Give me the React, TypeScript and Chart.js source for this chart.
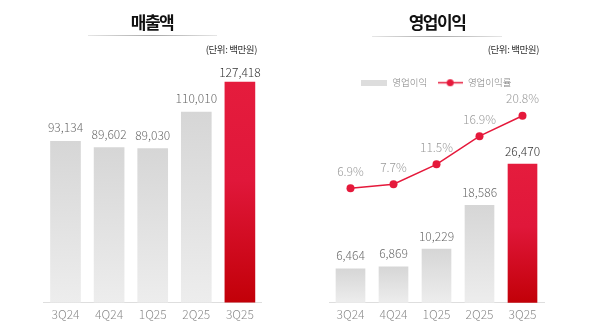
import React, { useEffect, useRef } from 'react';
import { Chart, registerables } from 'chart.js';

Chart.register(...registerables);

const categories = ['3Q24', '4Q24', '1Q25', '2Q25', '3Q25'];
const revenue = [93134, 89602, 89030, 110010, 127418];
const operatingProfit = [6464, 6869, 10229, 18586, 26470];
const operatingMargin = [6.9, 7.7, 11.5, 16.9, 20.8];
const revenueTitle = '매출액';
const profitTitle = '영업이익';
const unitLabel = '(단위: 백만원)';
const profitLegend = '영업이익';
const marginLegend = '영업이익률';

const FONT = "'Noto Sans CJK KR', 'Noto Sans', sans-serif";
const RED = '#e5193b';

function barColor(c: any) {
  const chart = c.chart;
  const area = chart.chartArea;
  const n = c.dataset && c.dataset.data ? c.dataset.data.length : 0;
  const last = c.dataIndex === n - 1;
  if (!area || c.type !== 'data') return last ? RED : '#dcdcdc';
  const scale = chart.scales[c.dataset.yAxisID || 'y'];
  const top = scale.getPixelForValue(c.raw);
  const g = chart.ctx.createLinearGradient(0, top, 0, area.bottom);
  if (last) {
    g.addColorStop(0, '#e51c3d');
    g.addColorStop(0.45, '#e0173a');
    g.addColorStop(1, '#c20008');
  } else {
    g.addColorStop(0, '#d6d6d6');
    g.addColorStop(1, '#ededed');
  }
  return g;
}

const fmt = (v: number) => v.toLocaleString('en-US');

function labelsPlugin(items: { ds: number; offset: (i: number) => number; color: (i: number) => string; format: (v: number) => string }[]) {
  return {
    id: 'valueLabels',
    afterDatasetsDraw(chart: any) {
      const ctx = chart.ctx;
      ctx.save();
      ctx.font = `300 12px ${FONT}`;
      ctx.textAlign = 'center';
      ctx.textBaseline = 'middle';
      items.forEach((it) => {
        const meta = chart.getDatasetMeta(it.ds);
        const data = chart.data.datasets[it.ds].data as number[];
        meta.data.forEach((el: any, i: number) => {
          ctx.fillStyle = it.color(i);
          ctx.fillText(it.format(data[i]), el.x, el.y - it.offset(i));
        });
      });
      ctx.restore();
    },
  };
}

const xScale = {
  grid: { display: false, drawTicks: false },
  border: { display: true, color: '#dedede', width: 1 },
  ticks: { color: '#8a8a8a', font: { family: FONT, size: 12, weight: 300 }, padding: 5 },
};

function makeBoxImg() {
  const c = document.createElement('canvas');
  c.width = 26;
  c.height = 6;
  const x = c.getContext('2d')!;
  x.fillStyle = '#dddddd';
  x.fillRect(0, 0, 26, 6);
  return c;
}

function makeLineImg() {
  const c = document.createElement('canvas');
  c.width = 25;
  c.height = 9;
  const x = c.getContext('2d')!;
  x.strokeStyle = RED;
  x.lineWidth = 1.5;
  x.beginPath();
  x.moveTo(0, 4.5);
  x.lineTo(25, 4.5);
  x.stroke();
  x.fillStyle = RED;
  x.beginPath();
  x.arc(12.5, 4.5, 3.5, 0, Math.PI * 2);
  x.fill();
  return c;
}

function RevenueChart() {
  const ref = useRef<HTMLCanvasElement>(null);
  useEffect(() => {
    const chart = new Chart(ref.current!, {
      type: 'bar',
      data: {
        labels: categories,
        datasets: [
          { label: revenueTitle, data: revenue, backgroundColor: barColor as any, borderWidth: 0, barThickness: 30 },
        ],
      },
      options: {
        responsive: true,
        maintainAspectRatio: false,
        animation: false,
        layout: { padding: { left: 43.7, right: 38.3, top: 62, bottom: 8 } },
        plugins: { legend: { display: false }, tooltip: { enabled: false } },
        scales: {
          x: xScale as any,
          y: { display: false, min: 0, max: 139000 },
        },
      },
      plugins: [
        labelsPlugin([
          {
            ds: 0,
            offset: (i) => (i === 4 ? 9.5 : 13.5),
            color: (i) => (i === 4 ? '#333' : '#6a6a6a'),
            format: fmt,
          },
        ]),
      ],
    });
    return () => chart.destroy();
  }, []);
  return <canvas ref={ref} />;
}

function ProfitChart() {
  const ref = useRef<HTMLCanvasElement>(null);
  useEffect(() => {
    const boxImg = makeBoxImg();
    const lineImg = makeLineImg();
    const chart = new Chart(ref.current!, {
      type: 'bar',
      data: {
        labels: categories,
        datasets: [
          {
            type: 'bar',
            label: profitLegend,
            data: operatingProfit,
            yAxisID: 'y',
            order: 2,
            backgroundColor: barColor as any,
            borderWidth: 0,
            barThickness: 29,
          },
          {
            type: 'line',
            label: marginLegend,
            data: operatingMargin,
            yAxisID: 'y1',
            order: 1,
            borderColor: RED,
            borderWidth: 1.5,
            pointRadius: 4,
            pointBackgroundColor: RED,
            pointBorderWidth: 0,
          } as any,
        ],
      },
      options: {
        responsive: true,
        maintainAspectRatio: false,
        animation: false,
        layout: { padding: { left: 29, right: 56, top: 68, bottom: 7.9 } },
        plugins: {
          tooltip: { enabled: false },
          legend: {
            display: true,
            position: 'top',
            labels: {
              usePointStyle: true,
              pointStyleWidth: 26,
              padding: 10,
              color: '#808080',
              font: { family: FONT, size: 9.5, weight: 300 },
              generateLabels: () => [
                { text: profitLegend, pointStyle: boxImg as any, datasetIndex: 0, hidden: false, lineWidth: 0, fontColor: '#808080' },
                { text: marginLegend, pointStyle: lineImg as any, datasetIndex: 1, hidden: false, lineWidth: 0, fontColor: '#808080' },
              ],
            },
          },
        },
        scales: {
          x: xScale as any,
          y: { display: false, min: 0, max: 39200 },
          y1: { display: false, min: -15, max: 24.3 },
        },
      },
      plugins: [
        labelsPlugin([
          {
            ds: 0,
            offset: (i) => (i === 4 ? 12.5 : 13.2),
            color: (i) => (i === 4 ? '#333' : '#6a6a6a'),
            format: fmt,
          },
          {
            ds: 1,
            offset: () => 17,
            color: () => '#9a9a9a',
            format: (v) => v.toFixed(1) + '%',
          },
        ]),
      ],
    });
    return () => chart.destroy();
  }, []);
  return <canvas ref={ref} />;
}

const titleStyle: React.CSSProperties = {
  position: 'absolute',
  top: 12.5,
  fontFamily: FONT,
  fontWeight: 700,
  fontSize: 17,
  lineHeight: '17px',
  letterSpacing: '-1.5px',
  color: '#111',
  transform: 'translateX(-50%)',
  whiteSpace: 'nowrap',
};

const unitStyle: React.CSSProperties = {
  position: 'absolute',
  top: 44,
  fontFamily: FONT,
  fontSize: 9.5,
  lineHeight: '10px',
  letterSpacing: '-0.4px',
  color: '#333',
  whiteSpace: 'nowrap',
};

const lineStyle = (left: number, width: number, top: number): React.CSSProperties => ({
  position: 'absolute',
  left,
  width,
  top,
  height: 1,
  background: 'linear-gradient(to right, #e6e6e6, #a8a8a8 50%, #e6e6e6)',
});

export default function App() {
  return (
    <div style={{ position: 'absolute', left: 0, top: 0, width: 600, height: 335, background: '#fff', overflow: 'hidden' }}>
      <div style={{ position: 'absolute', left: 0, top: 0, width: 300, height: 335 }}>
        <RevenueChart />
      </div>
      <div style={{ position: 'absolute', left: 300, top: 0, width: 300, height: 335 }}>
        <ProfitChart />
      </div>
      <div style={{ ...titleStyle, left: 152 }}>{revenueTitle}</div>
      <div style={lineStyle(88, 129, 35)} />
      <div style={{ ...unitStyle, right: 343 }}>{unitLabel}</div>
      <div style={{ ...titleStyle, left: 437 }}>{profitTitle}</div>
      <div style={lineStyle(372, 130, 35.5)} />
      <div style={{ ...unitStyle, right: 61 }}>{unitLabel}</div>
    </div>
  );
}
